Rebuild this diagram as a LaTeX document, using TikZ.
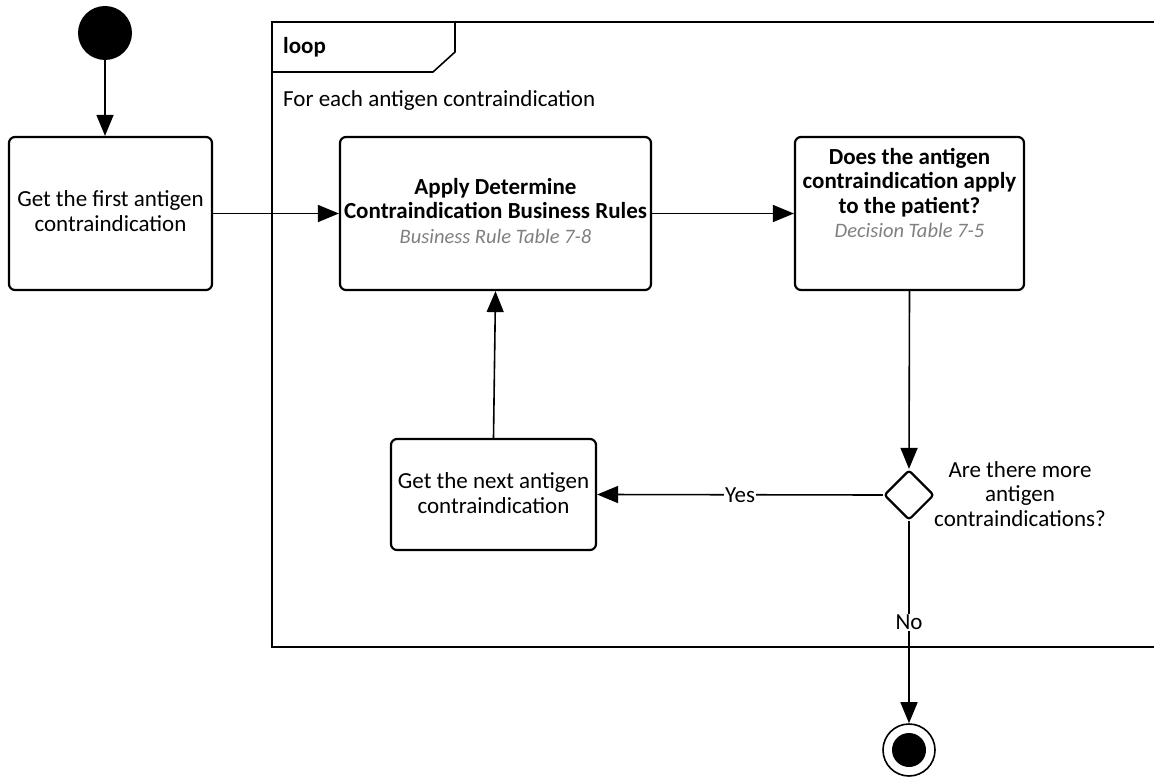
\documentclass[tikz,border=0pt]{standalone}
\usepackage{fontspec}
\setmainfont{Carlito}
\usetikzlibrary{arrows.meta,shapes.geometric}
\definecolor{subgray}{HTML}{7F7F7F}
\newcommand{\mainsize}{\fontsize{23}{24.5}\selectfont}
\newcommand{\subsize}{\fontsize{20.5}{24.5}\selectfont}
\tikzset{
  box/.style={draw,line width=2.2pt,rounded corners=6pt,align=center,inner sep=0pt},
  conn/.style={line width=1.6pt,-{Triangle[length=21pt,width=17pt]}},
  txt/.style={align=center,font=\mainsize,inner sep=0pt},
  lbl/.style={fill=white,inner sep=1pt,font=\mainsize}
}
\begin{document}
\begin{tikzpicture}[x=1pt,y=-1pt]
\useasboundingbox (0,0) rectangle (1154,778);
% loop frame
\draw[line width=1.6pt] (1156,22) -- (272,22) -- (272,647) -- (1156,647);
\draw[line width=1.6pt] (272,72) -- (433,72) -- (455,52) -- (455,22);
\node[anchor=west,inner sep=0pt,font=\mainsize\bfseries] (looplbl) at (283,47) {loop};
\node[anchor=west,inner sep=0pt,font=\mainsize] (loopcond) at (283,100) {For each antigen contraindication};
% start
\node[circle,fill=black,minimum size=54pt,inner sep=0pt] (start) at (105,33) {};
% boxes
\node[box,minimum width=203pt,minimum height=153pt] (b1) at (110.5,213.5) {};
\node[txt] (b1t) at (110.5,211) {Get the first antigen\\contraindication};
\node[box,minimum width=311pt,minimum height=153pt] (b2) at (495.5,213.5) {};
\node[txt] (b2t) at (495.5,211) {\textbf{Apply Determine}\\\textbf{Contraindication Business Rules}\\{\subsize\itshape\color{subgray}Business Rule Table 7-8}};
\node[box,minimum width=229pt,minimum height=153pt] (b3) at (909.5,213.5) {};
\node[txt] (b3t) at (909.5,193) {\textbf{Does the antigen}\\\textbf{contraindication apply}\\\textbf{to the patient?}\\{\subsize\itshape\color{subgray}Decision Table 7-5}};
\node[box,minimum width=205pt,minimum height=111pt] (b4) at (493.5,494.5) {};
\node[txt] (b4t) at (493.5,493) {Get the next antigen\\contraindication};
% decision
\node[diamond,draw,line width=2.2pt,rounded corners=3pt,minimum width=50pt,minimum height=50pt,inner sep=0pt] (dec) at (909,495) {};
\node[txt] (dect) at (1020,494) {Are there more\\antigen\\contraindications?};
% end
\node[circle,draw,line width=1.6pt,minimum size=52pt,inner sep=0pt] (end) at (909,750) {};
\node[circle,fill=black,minimum size=34pt,inner sep=0pt] (endin) at (909,750) {};
% connectors
\draw[conn] (start) -- (start |- b1.north);
\draw[conn] (b1.east) -- (b2.west);
\draw[conn] (b2.east) -- (b3.west);
\draw[conn] (b3.south) -- (dec.north);
\draw[conn] (dec.west) -- node[lbl] (yes) {Yes} (b4.east);
\draw[conn] (b4.north) -- (b2.south);
\draw[conn] (dec.south) -- node[lbl,pos=0.5] (no) {No} (end.north);
\end{tikzpicture}
\end{document}
